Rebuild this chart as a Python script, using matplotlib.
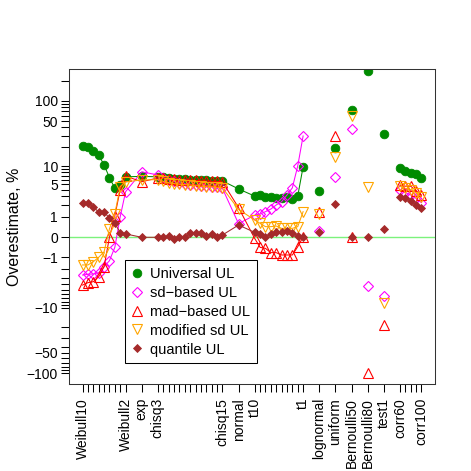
import numpy as np
import matplotlib
matplotlib.use("Agg")
import matplotlib.pyplot as plt
from matplotlib.lines import Line2D

plt.rcParams["font.family"] = ["Liberation Sans", "DejaVu Sans"]

# ---------------- data ----------------
names = (["Weibull%d" % k for k in range(10, 1, -1)] + ["exp"]
         + ["chisq%d" % k for k in range(3, 16)] + ["normal"]
         + ["t%d" % k for k in range(10, 0, -1)]
         + ["lognormal", "uniform", "Bernoulli50", "Bernoulli80", "test1"]
         + ["corr%d" % k for k in range(60, 101, 10)])
families = (["Weibull"] * 9 + ["exp"] + ["chisq"] * 13 + ["normal"] + ["t"] * 10
            + ["lognormal", "uniform", "Bernoulli50", "Bernoulli80", "test1"]
            + ["corr"] * 5)
shown_labels = ["Weibull10", "Weibull2", "exp", "chisq3", "chisq15", "normal",
                "t10", "t1", "lognormal", "uniform", "Bernoulli50",
                "Bernoulli80", "test1", "corr60", "corr100"]
# families joined by lines
joined = [["Weibull", "exp", "chisq", "normal", "t"], ["corr"]]

universal = ([20.9, 19.9, 17.4, 15.1, 10.5, 6.5, 4.2, 4.9, 6.7] + [6.8]
             + [6.7, 6.6, 6.4, 6.2, 6.1, 6.05, 5.95, 5.9, 5.9, 5.8, 5.75, 5.75, 5.7]
             + [4.1]
             + [3.0, 3.15, 2.85, 2.9, 2.7, 2.7, 2.9, 2.6, 3.0, 9.8]
             + [3.75, 19.2, 73, 277, 31.5]
             + [9.4, 8.4, 7.9, 7.5, 6.5])
sd_based = ([-2.63, -2.54, -2.5, -2.35, -1.74, -1.23, -0.42, 0.99, 3.64] + [8.1]
            + [7.2, 6.5, 6.0, 5.6, 5.3, 5.1, 4.9, 4.8, 4.7, 4.6, 4.5, 4.4, 4.2]
            + [0.57]
            + [1.1, 1.18, 1.36, 1.58, 1.96, 2.31, 3.15, 4.3, 10.1, 29.7]
            + [0.22, 6.7, 38, -4.3, -6.3]
            + [4.0, 3.5, 3.15, 2.7, 2.2])
mad_based = ([-4.1, -3.7, -3.55, -2.85, -1.74, -0.01, 1.05, 4.0, 6.9] + [5.5]
             + [6.4, 6.3, 6.2, 6.1, 6.0, 5.9, 5.9, 5.8, 5.7, 5.7, 5.6, 5.6, 5.5]
             + [1.7]
             + [-0.05, -0.42, -0.47, -0.7, -0.7, -0.84, -0.84, -0.84, -0.39, 0.0]
             + [1.36, 29.7, 0.01, -98, -18.7]
             + [4.8, 4.6, 4.6, 3.8, 3.15])
modified_sd = ([-1.58, -1.58, -1.31, -0.99, -0.65, 0.32, 1.2, 4.5, 5.5] + [5.9]
               + [6.0, 5.6, 5.3, 5.1, 5.0, 4.9, 4.8, 4.7, 4.6, 4.5, 4.5, 4.4, 4.3]
               + [1.55]
               + [0.78, 0.59, 0.42, 0.42, 0.45, 0.34, 0.34, 0.34, 0.42, 1.36]
               + [1.18, 13.9, 59.5, 4.5, -8.3]
               + [4.6, 4.2, 4.0, 3.5, 2.9])
quantile = ([2.13, 2.2, 1.8, 1.31, 1.36, 0.88, 0.59, 0.16, 0.11] + [-0.01]
            + [-0.01, -0.01, 0.035, -0.07, -0.01, -0.01, 0.13, 0.16, 0.16, 0.035, 0.1, -0.01, 0.07]
            + [0.5]
            + [0.17, 0.10, 0.0, 0.1, 0.17, 0.18, 0.24, 0.16, 0.035, 0.0]
            + [0.17, 2.06, 0.0, 0.0, 0.33]
            + [2.9, 2.7, 2.4, 2.0, 1.7])

ytick_vals = [-100, -90, -80, -70, -60, -50, -40, -30, -20, -10, -9, -8, -7, -6,
              -5, -4, -3, -2, -1, 0, 1, 2, 3, 4, 5, 6, 7, 8, 9, 10, 20, 30, 40, 50,
              60, 70, 80, 90, 100, 200]
ytick_labeled = [-100, -50, -10, -1, 0, 1, 5, 10, 50, 100]

# ---------------- layout ----------------
xpos = []
for i, f in enumerate(families):
    if i == 0:
        xpos.append(0)
    else:
        xpos.append(xpos[-1] + (1 if f == families[i - 1] else 3))
xpos = np.array(xpos, dtype=float)
fam_arr = np.array(families)


def fwd(y):
    y = np.asarray(y, dtype=float)
    return np.sign(y) * np.log1p(np.abs(y))


def inv(v):
    v = np.asarray(v, dtype=float)
    return np.sign(v) * np.expm1(np.abs(v))


series = [
    (universal, "Universal UL", dict(marker="o", color="#008B00", mfc="#008B00", ms=6.2, mew=0.6)),
    (sd_based, "sd\u2212based UL", dict(marker="D", color="magenta", mfc="none", ms=5.0, mew=0.8)),
    (mad_based, "mad\u2212based UL", dict(marker="^", color="red", mfc="none", ms=7.0, mew=0.8)),
    (modified_sd, "modified sd UL", dict(marker="v", color="orange", mfc="none", ms=7.0, mew=0.8)),
    (quantile, "quantile UL", dict(marker="D", color="#A52A2A", mfc="#A52A2A", ms=3.8, mew=0.6)),
]

fig = plt.figure(figsize=(4.71, 4.71), dpi=100)
ax = fig.add_axes([69 / 471, 1 - 384 / 471, 366 / 471, 315 / 471])
ax.set_yscale("function", functions=(fwd, inv))

ax.axhline(0, color="#7CF27C", lw=1.0, zorder=1)

handles = []
all_joined = sum(joined, [])
for vals, lab, st in series:
    vals = np.array(vals, dtype=float)
    for grp in joined:
        m = np.isin(fam_arr, grp)
        ax.plot(xpos[m], vals[m], lw=0.75, linestyle="-", **st)
    single = ~np.isin(fam_arr, all_joined)
    ax.plot(xpos[single], vals[single], linestyle="none", **st)
    handles.append(Line2D([], [], linestyle="none", **st))

ax.set_yticks(ytick_vals)
ax.set_yticklabels([(str(v).replace("-", "\u2212") if v in ytick_labeled else "")
                    for v in ytick_vals])
ax.set_xticks(xpos)
ax.set_xticklabels([n if n in shown_labels else "" for n in names], rotation=90)
ax.set_xlim(xpos.min() - 0.04 * xpos.max(), xpos.max() * 1.04)
ax.set_ylim(inv(-4.983), inv(5.695))

ax.tick_params(axis="both", direction="out", length=5.5, width=0.75, labelsize=10,
               color="black")
ax.tick_params(axis="x", pad=4.5)
ax.tick_params(axis="y", pad=2.5)
ax.minorticks_off()
for s in ax.spines.values():
    s.set_linewidth(0.75)
    s.set_color("#333333")

ax.set_ylabel("Overestimate, %", fontsize=11.5)
ax.yaxis.set_label_coords(-0.128, 0.5)

leg = ax.legend(handles, [s[1] for s in series], loc="upper left",
                bbox_to_anchor=(125 / 471, 1 - 260 / 471), bbox_transform=fig.transFigure,
                borderaxespad=0, fancybox=False, framealpha=1, edgecolor="black",
                fontsize=10.5, handlelength=0.73, handletextpad=0.53, labelspacing=0.34,
                borderpad=0.46, numpoints=1)
leg.get_frame().set_linewidth(0.75)

fig.savefig("out.png", dpi=100)
